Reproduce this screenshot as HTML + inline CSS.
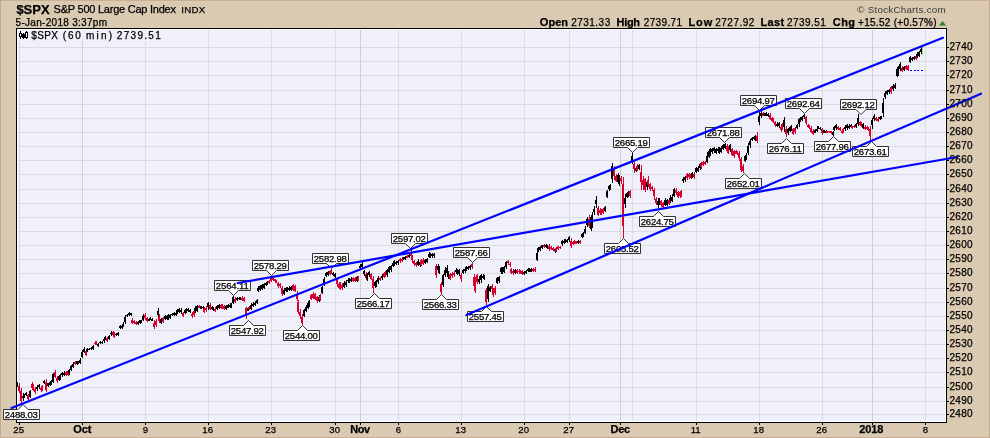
<!DOCTYPE html><html><head><meta charset="utf-8"><title>$SPX</title><style>
html,body{margin:0;padding:0;width:990px;height:438px;overflow:hidden;background:#D9CAB1}
svg{display:block;will-change:transform}text{font-family:"Liberation Sans",sans-serif;stroke:currentColor;stroke-width:0.25px}
</style></head><body>
<svg width="990" height="438" viewBox="0 0 990 438">
<rect x="0" y="0" width="990" height="438" fill="#D9CAB1"/>
<g shape-rendering="crispEdges">
<rect x="0" y="0" width="990" height="1" fill="#C8B097"/>
<rect x="0" y="437" width="990" height="1" fill="#C9AE93"/>
<rect x="0" y="0" width="1" height="438" fill="#C5A78B"/>
<rect x="989" y="0" width="1" height="438" fill="#C8A98C"/>
<rect x="16" y="28" width="931" height="395" fill="#000"/>
<rect x="17" y="29" width="929" height="393" fill="#FFFFFF"/>
<rect x="18" y="30" width="927" height="391" fill="#F0F0FA"/>
<rect x="18" y="47" width="927" height="1" fill="#DCDCE0"/>
<rect x="18" y="61" width="927" height="1" fill="#DCDCE0"/>
<rect x="18" y="75" width="927" height="1" fill="#DCDCE0"/>
<rect x="18" y="90" width="927" height="1" fill="#DCDCE0"/>
<rect x="18" y="104" width="927" height="1" fill="#DCDCE0"/>
<rect x="18" y="118" width="927" height="1" fill="#DCDCE0"/>
<rect x="18" y="132" width="927" height="1" fill="#DCDCE0"/>
<rect x="18" y="146" width="927" height="1" fill="#DCDCE0"/>
<rect x="18" y="160" width="927" height="1" fill="#DCDCE0"/>
<rect x="18" y="174" width="927" height="1" fill="#DCDCE0"/>
<rect x="18" y="189" width="927" height="1" fill="#DCDCE0"/>
<rect x="18" y="203" width="927" height="1" fill="#DCDCE0"/>
<rect x="18" y="217" width="927" height="1" fill="#DCDCE0"/>
<rect x="18" y="231" width="927" height="1" fill="#DCDCE0"/>
<rect x="18" y="245" width="927" height="1" fill="#DCDCE0"/>
<rect x="18" y="259" width="927" height="1" fill="#DCDCE0"/>
<rect x="18" y="273" width="927" height="1" fill="#DCDCE0"/>
<rect x="18" y="288" width="927" height="1" fill="#DCDCE0"/>
<rect x="18" y="302" width="927" height="1" fill="#DCDCE0"/>
<rect x="18" y="316" width="927" height="1" fill="#DCDCE0"/>
<rect x="18" y="330" width="927" height="1" fill="#DCDCE0"/>
<rect x="18" y="344" width="927" height="1" fill="#DCDCE0"/>
<rect x="18" y="358" width="927" height="1" fill="#DCDCE0"/>
<rect x="18" y="372" width="927" height="1" fill="#DCDCE0"/>
<rect x="18" y="387" width="927" height="1" fill="#DCDCE0"/>
<rect x="18" y="401" width="927" height="1" fill="#DCDCE0"/>
<rect x="18" y="414" width="927" height="1" fill="#DCDCE0"/>
<rect x="19" y="30" width="1" height="391" fill="#DCDCE0"/>
<rect x="82" y="30" width="1" height="391" fill="#D3D1C6"/>
<rect x="145" y="30" width="1" height="391" fill="#DCDCE0"/>
<rect x="208" y="30" width="1" height="391" fill="#DCDCE0"/>
<rect x="271" y="30" width="1" height="391" fill="#DCDCE0"/>
<rect x="335" y="30" width="1" height="391" fill="#DCDCE0"/>
<rect x="360" y="30" width="1" height="391" fill="#D3D1C6"/>
<rect x="398" y="30" width="1" height="391" fill="#DCDCE0"/>
<rect x="461" y="30" width="1" height="391" fill="#DCDCE0"/>
<rect x="524" y="30" width="1" height="391" fill="#DCDCE0"/>
<rect x="569" y="30" width="1" height="391" fill="#DCDCE0"/>
<rect x="620" y="30" width="1" height="391" fill="#D3D1C6"/>
<rect x="632" y="30" width="1" height="391" fill="#DCDCE0"/>
<rect x="696" y="30" width="1" height="391" fill="#DCDCE0"/>
<rect x="759" y="30" width="1" height="391" fill="#DCDCE0"/>
<rect x="822" y="30" width="1" height="391" fill="#DCDCE0"/>
<rect x="872" y="30" width="1" height="391" fill="#D3D1C6"/>
<rect x="925" y="30" width="1" height="391" fill="#DCDCE0"/>
<rect x="18" y="30" width="146" height="11" fill="#F0F0FA"/>
</g>
<g shape-rendering="crispEdges">
<rect x="17" y="382" width="1" height="5" fill="#000"/>
<rect x="16" y="384" width="2" height="1" fill="#000"/>
<rect x="19" y="383" width="1" height="10" fill="#D8002F"/>
<rect x="18" y="386" width="2" height="5" fill="#D8002F"/>
<rect x="21" y="388" width="1" height="16" fill="#D8002F"/>
<rect x="20" y="391" width="2" height="10" fill="#D8002F"/>
<rect x="23" y="393" width="1" height="8" fill="#000"/>
<rect x="22" y="396" width="2" height="2" fill="#000"/>
<rect x="24" y="394" width="1" height="4" fill="#000"/>
<rect x="23" y="395" width="2" height="2" fill="#000"/>
<rect x="26" y="392" width="1" height="4" fill="#000"/>
<rect x="25" y="393" width="2" height="2" fill="#000"/>
<rect x="28" y="394" width="1" height="6" fill="#D8002F"/>
<rect x="27" y="395" width="2" height="4" fill="#D8002F"/>
<rect x="30" y="390" width="1" height="8" fill="#000"/>
<rect x="29" y="391" width="2" height="6" fill="#000"/>
<rect x="32" y="382" width="1" height="8" fill="#D8002F"/>
<rect x="31" y="384" width="2" height="4" fill="#D8002F"/>
<rect x="33" y="384" width="1" height="7" fill="#D8002F"/>
<rect x="32" y="386" width="2" height="3" fill="#D8002F"/>
<rect x="35" y="387" width="1" height="7" fill="#D8002F"/>
<rect x="34" y="389" width="2" height="3" fill="#D8002F"/>
<rect x="37" y="385" width="1" height="6" fill="#000"/>
<rect x="36" y="387" width="2" height="2" fill="#000"/>
<rect x="39" y="384" width="1" height="5" fill="#000"/>
<rect x="38" y="385" width="2" height="2" fill="#000"/>
<rect x="41" y="386" width="1" height="6" fill="#D8002F"/>
<rect x="40" y="388" width="2" height="2" fill="#D8002F"/>
<rect x="42" y="385" width="1" height="6" fill="#D8002F"/>
<rect x="41" y="387" width="2" height="3" fill="#D8002F"/>
<rect x="44" y="380" width="1" height="4" fill="#000"/>
<rect x="43" y="381" width="2" height="2" fill="#000"/>
<rect x="46" y="379" width="1" height="13" fill="#D8002F"/>
<rect x="45" y="382" width="2" height="8" fill="#D8002F"/>
<rect x="48" y="383" width="1" height="4" fill="#000"/>
<rect x="47" y="383" width="2" height="3" fill="#000"/>
<rect x="50" y="381" width="1" height="5" fill="#000"/>
<rect x="49" y="382" width="2" height="3" fill="#000"/>
<rect x="51" y="380" width="1" height="5" fill="#000"/>
<rect x="50" y="381" width="2" height="3" fill="#000"/>
<rect x="53" y="373" width="1" height="10" fill="#000"/>
<rect x="52" y="374" width="2" height="8" fill="#000"/>
<rect x="55" y="370" width="1" height="8" fill="#D8002F"/>
<rect x="54" y="372" width="2" height="5" fill="#D8002F"/>
<rect x="57" y="376" width="1" height="7" fill="#D8002F"/>
<rect x="56" y="378" width="2" height="3" fill="#D8002F"/>
<rect x="59" y="375" width="1" height="6" fill="#000"/>
<rect x="58" y="376" width="2" height="4" fill="#000"/>
<rect x="60" y="374" width="1" height="6" fill="#000"/>
<rect x="59" y="375" width="2" height="4" fill="#000"/>
<rect x="62" y="372" width="1" height="5" fill="#000"/>
<rect x="61" y="373" width="2" height="2" fill="#000"/>
<rect x="64" y="371" width="1" height="5" fill="#000"/>
<rect x="63" y="373" width="2" height="2" fill="#000"/>
<rect x="66" y="371" width="1" height="5" fill="#D8002F"/>
<rect x="65" y="372" width="2" height="3" fill="#D8002F"/>
<rect x="68" y="370" width="1" height="6" fill="#D8002F"/>
<rect x="67" y="371" width="2" height="4" fill="#D8002F"/>
<rect x="69" y="369" width="1" height="6" fill="#000"/>
<rect x="68" y="370" width="2" height="3" fill="#000"/>
<rect x="71" y="365" width="1" height="6" fill="#000"/>
<rect x="70" y="366" width="2" height="4" fill="#000"/>
<rect x="73" y="362" width="1" height="6" fill="#000"/>
<rect x="72" y="364" width="2" height="3" fill="#000"/>
<rect x="75" y="361" width="1" height="4" fill="#D8002F"/>
<rect x="74" y="362" width="2" height="2" fill="#D8002F"/>
<rect x="77" y="361" width="1" height="4" fill="#000"/>
<rect x="76" y="361" width="2" height="3" fill="#000"/>
<rect x="78" y="361" width="1" height="3" fill="#000"/>
<rect x="77" y="362" width="2" height="1" fill="#000"/>
<rect x="80" y="358" width="1" height="6" fill="#000"/>
<rect x="79" y="360" width="2" height="3" fill="#000"/>
<rect x="82" y="350" width="1" height="8" fill="#000"/>
<rect x="81" y="352" width="2" height="5" fill="#000"/>
<rect x="84" y="347" width="1" height="6" fill="#000"/>
<rect x="83" y="349" width="2" height="3" fill="#000"/>
<rect x="86" y="349" width="1" height="7" fill="#D8002F"/>
<rect x="85" y="351" width="2" height="4" fill="#D8002F"/>
<rect x="87" y="348" width="1" height="4" fill="#000"/>
<rect x="86" y="349" width="2" height="2" fill="#000"/>
<rect x="89" y="348" width="1" height="2" fill="#000"/>
<rect x="88" y="349" width="2" height="1" fill="#000"/>
<rect x="91" y="347" width="1" height="3" fill="#000"/>
<rect x="90" y="348" width="2" height="1" fill="#000"/>
<rect x="93" y="345" width="1" height="5" fill="#000"/>
<rect x="92" y="346" width="2" height="3" fill="#000"/>
<rect x="95" y="342" width="1" height="3" fill="#D8002F"/>
<rect x="94" y="343" width="2" height="1" fill="#D8002F"/>
<rect x="96" y="341" width="1" height="4" fill="#D8002F"/>
<rect x="95" y="341" width="2" height="4" fill="#D8002F"/>
<rect x="98" y="343" width="1" height="4" fill="#000"/>
<rect x="97" y="344" width="2" height="2" fill="#000"/>
<rect x="100" y="341" width="1" height="3" fill="#000"/>
<rect x="99" y="342" width="2" height="1" fill="#000"/>
<rect x="102" y="341" width="1" height="3" fill="#000"/>
<rect x="101" y="342" width="2" height="1" fill="#000"/>
<rect x="104" y="337" width="1" height="6" fill="#000"/>
<rect x="103" y="339" width="2" height="2" fill="#000"/>
<rect x="105" y="336" width="1" height="4" fill="#000"/>
<rect x="104" y="337" width="2" height="2" fill="#000"/>
<rect x="107" y="337" width="1" height="5" fill="#D8002F"/>
<rect x="106" y="338" width="2" height="3" fill="#D8002F"/>
<rect x="109" y="335" width="1" height="5" fill="#000"/>
<rect x="108" y="336" width="2" height="3" fill="#000"/>
<rect x="111" y="331" width="1" height="5" fill="#000"/>
<rect x="110" y="333" width="2" height="1" fill="#000"/>
<rect x="113" y="331" width="1" height="6" fill="#D8002F"/>
<rect x="112" y="332" width="2" height="3" fill="#D8002F"/>
<rect x="114" y="332" width="1" height="6" fill="#D8002F"/>
<rect x="113" y="334" width="2" height="3" fill="#D8002F"/>
<rect x="116" y="333" width="1" height="3" fill="#000"/>
<rect x="115" y="334" width="2" height="1" fill="#000"/>
<rect x="118" y="332" width="1" height="4" fill="#000"/>
<rect x="117" y="333" width="2" height="2" fill="#000"/>
<rect x="120" y="325" width="1" height="4" fill="#000"/>
<rect x="119" y="326" width="2" height="2" fill="#000"/>
<rect x="122" y="325" width="1" height="4" fill="#000"/>
<rect x="121" y="326" width="2" height="2" fill="#000"/>
<rect x="123" y="322" width="1" height="5" fill="#000"/>
<rect x="122" y="324" width="2" height="1" fill="#000"/>
<rect x="125" y="315" width="1" height="9" fill="#000"/>
<rect x="124" y="317" width="2" height="5" fill="#000"/>
<rect x="127" y="314" width="1" height="3" fill="#000"/>
<rect x="126" y="315" width="2" height="1" fill="#000"/>
<rect x="129" y="312" width="1" height="4" fill="#000"/>
<rect x="128" y="313" width="2" height="2" fill="#000"/>
<rect x="131" y="313" width="1" height="3" fill="#000"/>
<rect x="130" y="313" width="2" height="2" fill="#000"/>
<rect x="132" y="318" width="1" height="6" fill="#D8002F"/>
<rect x="131" y="320" width="2" height="3" fill="#D8002F"/>
<rect x="134" y="320" width="1" height="4" fill="#D8002F"/>
<rect x="133" y="321" width="2" height="2" fill="#D8002F"/>
<rect x="136" y="321" width="1" height="4" fill="#D8002F"/>
<rect x="135" y="322" width="2" height="2" fill="#D8002F"/>
<rect x="138" y="321" width="1" height="4" fill="#000"/>
<rect x="137" y="322" width="2" height="2" fill="#000"/>
<rect x="140" y="320" width="1" height="4" fill="#000"/>
<rect x="139" y="320" width="2" height="3" fill="#000"/>
<rect x="141" y="320" width="1" height="3" fill="#000"/>
<rect x="140" y="321" width="2" height="1" fill="#000"/>
<rect x="143" y="314" width="1" height="7" fill="#000"/>
<rect x="142" y="316" width="2" height="4" fill="#000"/>
<rect x="145" y="313" width="1" height="7" fill="#D8002F"/>
<rect x="144" y="315" width="2" height="3" fill="#D8002F"/>
<rect x="147" y="317" width="1" height="5" fill="#D8002F"/>
<rect x="146" y="318" width="2" height="3" fill="#D8002F"/>
<rect x="149" y="318" width="1" height="3" fill="#000"/>
<rect x="148" y="319" width="2" height="2" fill="#000"/>
<rect x="150" y="317" width="1" height="3" fill="#000"/>
<rect x="149" y="318" width="2" height="2" fill="#000"/>
<rect x="152" y="318" width="1" height="3" fill="#000"/>
<rect x="151" y="319" width="2" height="2" fill="#000"/>
<rect x="154" y="320" width="1" height="9" fill="#D8002F"/>
<rect x="153" y="323" width="2" height="4" fill="#D8002F"/>
<rect x="156" y="319" width="1" height="8" fill="#D8002F"/>
<rect x="155" y="321" width="2" height="4" fill="#D8002F"/>
<rect x="158" y="308" width="1" height="9" fill="#000"/>
<rect x="157" y="311" width="2" height="4" fill="#000"/>
<rect x="159" y="314" width="1" height="9" fill="#D8002F"/>
<rect x="158" y="317" width="2" height="4" fill="#D8002F"/>
<rect x="161" y="318" width="1" height="6" fill="#000"/>
<rect x="160" y="319" width="2" height="4" fill="#000"/>
<rect x="163" y="317" width="1" height="6" fill="#D8002F"/>
<rect x="162" y="318" width="2" height="4" fill="#D8002F"/>
<rect x="165" y="315" width="1" height="5" fill="#000"/>
<rect x="164" y="316" width="2" height="3" fill="#000"/>
<rect x="167" y="315" width="1" height="5" fill="#000"/>
<rect x="166" y="316" width="2" height="3" fill="#000"/>
<rect x="168" y="314" width="1" height="6" fill="#000"/>
<rect x="167" y="315" width="2" height="3" fill="#000"/>
<rect x="170" y="314" width="1" height="5" fill="#000"/>
<rect x="169" y="315" width="2" height="3" fill="#000"/>
<rect x="172" y="313" width="1" height="3" fill="#000"/>
<rect x="171" y="314" width="2" height="1" fill="#000"/>
<rect x="174" y="312" width="1" height="4" fill="#000"/>
<rect x="173" y="313" width="2" height="2" fill="#000"/>
<rect x="176" y="312" width="1" height="4" fill="#000"/>
<rect x="175" y="313" width="2" height="2" fill="#000"/>
<rect x="177" y="309" width="1" height="5" fill="#000"/>
<rect x="176" y="310" width="2" height="3" fill="#000"/>
<rect x="179" y="308" width="1" height="5" fill="#000"/>
<rect x="178" y="309" width="2" height="3" fill="#000"/>
<rect x="181" y="308" width="1" height="6" fill="#000"/>
<rect x="180" y="310" width="2" height="2" fill="#000"/>
<rect x="183" y="312" width="1" height="5" fill="#D8002F"/>
<rect x="182" y="313" width="2" height="3" fill="#D8002F"/>
<rect x="185" y="309" width="1" height="5" fill="#000"/>
<rect x="184" y="310" width="2" height="3" fill="#000"/>
<rect x="186" y="308" width="1" height="5" fill="#000"/>
<rect x="185" y="309" width="2" height="3" fill="#000"/>
<rect x="188" y="308" width="1" height="4" fill="#000"/>
<rect x="187" y="309" width="2" height="2" fill="#000"/>
<rect x="190" y="309" width="1" height="4" fill="#000"/>
<rect x="189" y="310" width="2" height="2" fill="#000"/>
<rect x="192" y="312" width="1" height="6" fill="#D8002F"/>
<rect x="191" y="314" width="2" height="2" fill="#D8002F"/>
<rect x="194" y="310" width="1" height="7" fill="#D8002F"/>
<rect x="193" y="311" width="2" height="4" fill="#D8002F"/>
<rect x="195" y="306" width="1" height="7" fill="#000"/>
<rect x="194" y="308" width="2" height="3" fill="#000"/>
<rect x="197" y="305" width="1" height="7" fill="#000"/>
<rect x="196" y="306" width="2" height="5" fill="#000"/>
<rect x="199" y="305" width="1" height="3" fill="#D8002F"/>
<rect x="198" y="306" width="2" height="2" fill="#D8002F"/>
<rect x="201" y="306" width="1" height="3" fill="#000"/>
<rect x="200" y="306" width="2" height="3" fill="#000"/>
<rect x="203" y="306" width="1" height="3" fill="#000"/>
<rect x="202" y="307" width="2" height="1" fill="#000"/>
<rect x="204" y="307" width="1" height="6" fill="#D8002F"/>
<rect x="203" y="309" width="2" height="3" fill="#D8002F"/>
<rect x="206" y="306" width="1" height="6" fill="#D8002F"/>
<rect x="205" y="308" width="2" height="2" fill="#D8002F"/>
<rect x="208" y="302" width="1" height="8" fill="#000"/>
<rect x="207" y="303" width="2" height="4" fill="#000"/>
<rect x="210" y="303" width="1" height="7" fill="#D8002F"/>
<rect x="209" y="305" width="2" height="4" fill="#D8002F"/>
<rect x="212" y="306" width="1" height="4" fill="#000"/>
<rect x="211" y="307" width="2" height="2" fill="#000"/>
<rect x="213" y="307" width="1" height="4" fill="#000"/>
<rect x="212" y="308" width="2" height="2" fill="#000"/>
<rect x="215" y="307" width="1" height="5" fill="#D8002F"/>
<rect x="214" y="309" width="2" height="2" fill="#D8002F"/>
<rect x="217" y="305" width="1" height="5" fill="#000"/>
<rect x="216" y="306" width="2" height="3" fill="#000"/>
<rect x="219" y="304" width="1" height="5" fill="#000"/>
<rect x="218" y="305" width="2" height="3" fill="#000"/>
<rect x="221" y="304" width="1" height="5" fill="#D8002F"/>
<rect x="220" y="305" width="2" height="3" fill="#D8002F"/>
<rect x="222" y="304" width="1" height="5" fill="#D8002F"/>
<rect x="221" y="305" width="2" height="3" fill="#D8002F"/>
<rect x="224" y="305" width="1" height="5" fill="#D8002F"/>
<rect x="223" y="306" width="2" height="3" fill="#D8002F"/>
<rect x="226" y="305" width="1" height="5" fill="#000"/>
<rect x="225" y="306" width="2" height="3" fill="#000"/>
<rect x="228" y="304" width="1" height="4" fill="#000"/>
<rect x="227" y="305" width="2" height="3" fill="#000"/>
<rect x="230" y="303" width="1" height="5" fill="#000"/>
<rect x="229" y="305" width="2" height="2" fill="#000"/>
<rect x="231" y="303" width="1" height="5" fill="#000"/>
<rect x="230" y="305" width="2" height="2" fill="#000"/>
<rect x="233" y="296" width="1" height="8" fill="#000"/>
<rect x="232" y="297" width="2" height="6" fill="#000"/>
<rect x="235" y="297" width="1" height="6" fill="#D8002F"/>
<rect x="234" y="299" width="2" height="3" fill="#D8002F"/>
<rect x="237" y="297" width="1" height="4" fill="#000"/>
<rect x="236" y="298" width="2" height="2" fill="#000"/>
<rect x="239" y="297" width="1" height="3" fill="#000"/>
<rect x="238" y="298" width="2" height="1" fill="#000"/>
<rect x="240" y="297" width="1" height="3" fill="#000"/>
<rect x="239" y="297" width="2" height="3" fill="#000"/>
<rect x="242" y="296" width="1" height="5" fill="#D8002F"/>
<rect x="241" y="298" width="2" height="2" fill="#D8002F"/>
<rect x="244" y="297" width="1" height="5" fill="#D8002F"/>
<rect x="243" y="298" width="2" height="3" fill="#D8002F"/>
<rect x="246" y="307" width="1" height="12" fill="#D8002F"/>
<rect x="245" y="308" width="2" height="8" fill="#D8002F"/>
<rect x="248" y="307" width="1" height="4" fill="#000"/>
<rect x="247" y="308" width="2" height="3" fill="#000"/>
<rect x="249" y="306" width="1" height="4" fill="#D8002F"/>
<rect x="248" y="307" width="2" height="2" fill="#D8002F"/>
<rect x="251" y="303" width="1" height="7" fill="#000"/>
<rect x="250" y="305" width="2" height="4" fill="#000"/>
<rect x="253" y="302" width="1" height="5" fill="#000"/>
<rect x="252" y="304" width="2" height="2" fill="#000"/>
<rect x="255" y="301" width="1" height="5" fill="#000"/>
<rect x="254" y="303" width="2" height="2" fill="#000"/>
<rect x="257" y="299" width="1" height="5" fill="#000"/>
<rect x="256" y="300" width="2" height="3" fill="#000"/>
<rect x="258" y="286" width="1" height="6" fill="#000"/>
<rect x="257" y="288" width="2" height="3" fill="#000"/>
<rect x="260" y="285" width="1" height="6" fill="#000"/>
<rect x="259" y="286" width="2" height="4" fill="#000"/>
<rect x="262" y="284" width="1" height="6" fill="#000"/>
<rect x="261" y="285" width="2" height="4" fill="#000"/>
<rect x="264" y="283" width="1" height="6" fill="#000"/>
<rect x="263" y="284" width="2" height="4" fill="#000"/>
<rect x="266" y="282" width="1" height="4" fill="#000"/>
<rect x="265" y="283" width="2" height="2" fill="#000"/>
<rect x="267" y="281" width="1" height="4" fill="#000"/>
<rect x="266" y="282" width="2" height="2" fill="#000"/>
<rect x="269" y="280" width="1" height="4" fill="#D8002F"/>
<rect x="268" y="281" width="2" height="2" fill="#D8002F"/>
<rect x="271" y="277" width="1" height="5" fill="#D8002F"/>
<rect x="270" y="278" width="2" height="3" fill="#D8002F"/>
<rect x="273" y="276" width="1" height="5" fill="#D8002F"/>
<rect x="272" y="277" width="2" height="3" fill="#D8002F"/>
<rect x="275" y="279" width="1" height="3" fill="#D8002F"/>
<rect x="274" y="279" width="2" height="2" fill="#D8002F"/>
<rect x="276" y="280" width="1" height="3" fill="#D8002F"/>
<rect x="275" y="281" width="2" height="2" fill="#D8002F"/>
<rect x="278" y="282" width="1" height="6" fill="#D8002F"/>
<rect x="277" y="283" width="2" height="3" fill="#D8002F"/>
<rect x="280" y="283" width="1" height="5" fill="#D8002F"/>
<rect x="279" y="284" width="2" height="2" fill="#D8002F"/>
<rect x="282" y="286" width="1" height="10" fill="#D8002F"/>
<rect x="281" y="288" width="2" height="6" fill="#D8002F"/>
<rect x="284" y="288" width="1" height="7" fill="#000"/>
<rect x="283" y="290" width="2" height="4" fill="#000"/>
<rect x="286" y="287" width="1" height="5" fill="#000"/>
<rect x="285" y="288" width="2" height="3" fill="#000"/>
<rect x="287" y="287" width="1" height="5" fill="#000"/>
<rect x="286" y="289" width="2" height="2" fill="#000"/>
<rect x="289" y="286" width="1" height="5" fill="#000"/>
<rect x="288" y="288" width="2" height="2" fill="#000"/>
<rect x="291" y="286" width="1" height="5" fill="#000"/>
<rect x="290" y="287" width="2" height="3" fill="#000"/>
<rect x="293" y="284" width="1" height="7" fill="#D8002F"/>
<rect x="292" y="285" width="2" height="5" fill="#D8002F"/>
<rect x="295" y="285" width="1" height="7" fill="#D8002F"/>
<rect x="294" y="286" width="2" height="5" fill="#D8002F"/>
<rect x="297" y="291" width="1" height="10" fill="#D8002F"/>
<rect x="296" y="294" width="2" height="5" fill="#D8002F"/>
<rect x="298" y="300" width="1" height="14" fill="#D8002F"/>
<rect x="297" y="302" width="2" height="10" fill="#D8002F"/>
<rect x="300" y="309" width="1" height="10" fill="#D8002F"/>
<rect x="299" y="312" width="2" height="4" fill="#D8002F"/>
<rect x="302" y="314" width="1" height="11" fill="#D8002F"/>
<rect x="301" y="317" width="2" height="6" fill="#D8002F"/>
<rect x="304" y="309" width="1" height="8" fill="#000"/>
<rect x="303" y="310" width="2" height="6" fill="#000"/>
<rect x="306" y="305" width="1" height="7" fill="#000"/>
<rect x="305" y="307" width="2" height="4" fill="#000"/>
<rect x="308" y="301" width="1" height="8" fill="#000"/>
<rect x="307" y="303" width="2" height="5" fill="#000"/>
<rect x="309" y="300" width="1" height="7" fill="#000"/>
<rect x="308" y="302" width="2" height="3" fill="#000"/>
<rect x="311" y="294" width="1" height="6" fill="#D8002F"/>
<rect x="310" y="295" width="2" height="4" fill="#D8002F"/>
<rect x="313" y="292" width="1" height="7" fill="#D8002F"/>
<rect x="312" y="294" width="2" height="4" fill="#D8002F"/>
<rect x="315" y="293" width="1" height="7" fill="#D8002F"/>
<rect x="314" y="294" width="2" height="5" fill="#D8002F"/>
<rect x="317" y="296" width="1" height="7" fill="#D8002F"/>
<rect x="316" y="297" width="2" height="4" fill="#D8002F"/>
<rect x="319" y="295" width="1" height="7" fill="#000"/>
<rect x="318" y="297" width="2" height="4" fill="#000"/>
<rect x="320" y="294" width="1" height="7" fill="#D8002F"/>
<rect x="319" y="296" width="2" height="4" fill="#D8002F"/>
<rect x="322" y="286" width="1" height="8" fill="#000"/>
<rect x="321" y="287" width="2" height="6" fill="#000"/>
<rect x="324" y="277" width="1" height="9" fill="#000"/>
<rect x="323" y="279" width="2" height="6" fill="#000"/>
<rect x="326" y="272" width="1" height="5" fill="#000"/>
<rect x="325" y="273" width="2" height="3" fill="#000"/>
<rect x="328" y="271" width="1" height="5" fill="#000"/>
<rect x="327" y="272" width="2" height="3" fill="#000"/>
<rect x="330" y="270" width="1" height="5" fill="#D8002F"/>
<rect x="329" y="271" width="2" height="3" fill="#D8002F"/>
<rect x="331" y="269" width="1" height="5" fill="#D8002F"/>
<rect x="330" y="270" width="2" height="3" fill="#D8002F"/>
<rect x="333" y="272" width="1" height="4" fill="#000"/>
<rect x="332" y="273" width="2" height="2" fill="#000"/>
<rect x="335" y="273" width="1" height="6" fill="#000"/>
<rect x="334" y="274" width="2" height="3" fill="#000"/>
<rect x="337" y="277" width="1" height="10" fill="#D8002F"/>
<rect x="336" y="278" width="2" height="6" fill="#D8002F"/>
<rect x="339" y="282" width="1" height="7" fill="#D8002F"/>
<rect x="338" y="284" width="2" height="4" fill="#D8002F"/>
<rect x="340" y="282" width="1" height="8" fill="#D8002F"/>
<rect x="339" y="284" width="2" height="3" fill="#D8002F"/>
<rect x="342" y="283" width="1" height="7" fill="#D8002F"/>
<rect x="341" y="285" width="2" height="3" fill="#D8002F"/>
<rect x="344" y="281" width="1" height="7" fill="#000"/>
<rect x="343" y="283" width="2" height="4" fill="#000"/>
<rect x="346" y="280" width="1" height="7" fill="#000"/>
<rect x="345" y="282" width="2" height="3" fill="#000"/>
<rect x="348" y="278" width="1" height="5" fill="#000"/>
<rect x="347" y="280" width="2" height="1" fill="#000"/>
<rect x="349" y="278" width="1" height="5" fill="#000"/>
<rect x="348" y="280" width="2" height="2" fill="#000"/>
<rect x="351" y="277" width="1" height="5" fill="#000"/>
<rect x="350" y="279" width="2" height="2" fill="#000"/>
<rect x="353" y="277" width="1" height="5" fill="#D8002F"/>
<rect x="352" y="278" width="2" height="3" fill="#D8002F"/>
<rect x="355" y="277" width="1" height="5" fill="#D8002F"/>
<rect x="354" y="278" width="2" height="3" fill="#D8002F"/>
<rect x="357" y="276" width="1" height="6" fill="#000"/>
<rect x="356" y="277" width="2" height="4" fill="#000"/>
<rect x="358" y="276" width="1" height="5" fill="#D8002F"/>
<rect x="357" y="278" width="2" height="2" fill="#D8002F"/>
<rect x="360" y="264" width="1" height="6" fill="#000"/>
<rect x="359" y="266" width="2" height="2" fill="#000"/>
<rect x="362" y="262" width="1" height="6" fill="#000"/>
<rect x="361" y="264" width="2" height="3" fill="#000"/>
<rect x="364" y="270" width="1" height="6" fill="#000"/>
<rect x="363" y="271" width="2" height="3" fill="#000"/>
<rect x="366" y="272" width="1" height="8" fill="#D8002F"/>
<rect x="365" y="274" width="2" height="4" fill="#D8002F"/>
<rect x="367" y="273" width="1" height="8" fill="#000"/>
<rect x="366" y="275" width="2" height="4" fill="#000"/>
<rect x="369" y="271" width="1" height="6" fill="#000"/>
<rect x="368" y="272" width="2" height="3" fill="#000"/>
<rect x="371" y="273" width="1" height="7" fill="#D8002F"/>
<rect x="370" y="274" width="2" height="5" fill="#D8002F"/>
<rect x="373" y="276" width="1" height="17" fill="#D8002F"/>
<rect x="372" y="279" width="2" height="9" fill="#D8002F"/>
<rect x="375" y="281" width="1" height="7" fill="#000"/>
<rect x="374" y="282" width="2" height="4" fill="#000"/>
<rect x="376" y="280" width="1" height="7" fill="#000"/>
<rect x="375" y="282" width="2" height="3" fill="#000"/>
<rect x="378" y="276" width="1" height="8" fill="#000"/>
<rect x="377" y="278" width="2" height="4" fill="#000"/>
<rect x="380" y="277" width="1" height="4" fill="#D8002F"/>
<rect x="379" y="278" width="2" height="2" fill="#D8002F"/>
<rect x="382" y="274" width="1" height="6" fill="#000"/>
<rect x="381" y="276" width="2" height="2" fill="#000"/>
<rect x="384" y="272" width="1" height="6" fill="#D8002F"/>
<rect x="383" y="273" width="2" height="4" fill="#D8002F"/>
<rect x="385" y="271" width="1" height="6" fill="#D8002F"/>
<rect x="384" y="272" width="2" height="3" fill="#D8002F"/>
<rect x="387" y="269" width="1" height="8" fill="#000"/>
<rect x="386" y="270" width="2" height="5" fill="#000"/>
<rect x="389" y="266" width="1" height="7" fill="#000"/>
<rect x="388" y="267" width="2" height="5" fill="#000"/>
<rect x="391" y="265" width="1" height="7" fill="#000"/>
<rect x="390" y="266" width="2" height="4" fill="#000"/>
<rect x="393" y="262" width="1" height="5" fill="#000"/>
<rect x="392" y="263" width="2" height="3" fill="#000"/>
<rect x="394" y="260" width="1" height="6" fill="#000"/>
<rect x="393" y="261" width="2" height="4" fill="#000"/>
<rect x="396" y="261" width="1" height="4" fill="#000"/>
<rect x="395" y="262" width="2" height="2" fill="#000"/>
<rect x="398" y="260" width="1" height="5" fill="#000"/>
<rect x="397" y="261" width="2" height="2" fill="#000"/>
<rect x="400" y="258" width="1" height="5" fill="#D8002F"/>
<rect x="399" y="259" width="2" height="2" fill="#D8002F"/>
<rect x="402" y="257" width="1" height="5" fill="#D8002F"/>
<rect x="401" y="259" width="2" height="2" fill="#D8002F"/>
<rect x="403" y="257" width="1" height="3" fill="#000"/>
<rect x="402" y="258" width="2" height="1" fill="#000"/>
<rect x="405" y="256" width="1" height="4" fill="#000"/>
<rect x="404" y="257" width="2" height="2" fill="#000"/>
<rect x="407" y="255" width="1" height="3" fill="#D8002F"/>
<rect x="406" y="256" width="2" height="2" fill="#D8002F"/>
<rect x="409" y="254" width="1" height="4" fill="#000"/>
<rect x="408" y="255" width="2" height="2" fill="#000"/>
<rect x="411" y="250" width="1" height="7" fill="#D8002F"/>
<rect x="410" y="252" width="2" height="4" fill="#D8002F"/>
<rect x="412" y="255" width="1" height="8" fill="#D8002F"/>
<rect x="411" y="257" width="2" height="3" fill="#D8002F"/>
<rect x="414" y="260" width="1" height="6" fill="#D8002F"/>
<rect x="413" y="261" width="2" height="3" fill="#D8002F"/>
<rect x="416" y="262" width="1" height="5" fill="#D8002F"/>
<rect x="415" y="263" width="2" height="2" fill="#D8002F"/>
<rect x="418" y="259" width="1" height="7" fill="#000"/>
<rect x="417" y="261" width="2" height="4" fill="#000"/>
<rect x="420" y="260" width="1" height="7" fill="#000"/>
<rect x="419" y="262" width="2" height="3" fill="#000"/>
<rect x="421" y="259" width="1" height="7" fill="#D8002F"/>
<rect x="420" y="260" width="2" height="5" fill="#D8002F"/>
<rect x="423" y="258" width="1" height="7" fill="#D8002F"/>
<rect x="422" y="260" width="2" height="4" fill="#D8002F"/>
<rect x="425" y="259" width="1" height="5" fill="#000"/>
<rect x="424" y="260" width="2" height="3" fill="#000"/>
<rect x="427" y="258" width="1" height="5" fill="#000"/>
<rect x="426" y="259" width="2" height="3" fill="#000"/>
<rect x="429" y="252" width="1" height="6" fill="#000"/>
<rect x="428" y="254" width="2" height="3" fill="#000"/>
<rect x="430" y="253" width="1" height="5" fill="#000"/>
<rect x="429" y="254" width="2" height="2" fill="#000"/>
<rect x="432" y="253" width="1" height="5" fill="#000"/>
<rect x="431" y="254" width="2" height="2" fill="#000"/>
<rect x="434" y="253" width="1" height="5" fill="#000"/>
<rect x="433" y="254" width="2" height="2" fill="#000"/>
<rect x="436" y="264" width="1" height="14" fill="#D8002F"/>
<rect x="435" y="266" width="2" height="9" fill="#D8002F"/>
<rect x="438" y="264" width="1" height="9" fill="#000"/>
<rect x="437" y="266" width="2" height="4" fill="#000"/>
<rect x="439" y="266" width="1" height="8" fill="#000"/>
<rect x="438" y="268" width="2" height="4" fill="#000"/>
<rect x="441" y="282" width="1" height="12" fill="#D8002F"/>
<rect x="440" y="284" width="2" height="8" fill="#D8002F"/>
<rect x="443" y="274" width="1" height="13" fill="#000"/>
<rect x="442" y="275" width="2" height="10" fill="#000"/>
<rect x="445" y="267" width="1" height="10" fill="#000"/>
<rect x="444" y="270" width="2" height="5" fill="#000"/>
<rect x="447" y="265" width="1" height="10" fill="#000"/>
<rect x="446" y="268" width="2" height="5" fill="#000"/>
<rect x="448" y="271" width="1" height="8" fill="#000"/>
<rect x="447" y="272" width="2" height="5" fill="#000"/>
<rect x="450" y="273" width="1" height="7" fill="#D8002F"/>
<rect x="449" y="274" width="2" height="5" fill="#D8002F"/>
<rect x="452" y="272" width="1" height="6" fill="#D8002F"/>
<rect x="451" y="274" width="2" height="2" fill="#D8002F"/>
<rect x="454" y="271" width="1" height="6" fill="#D8002F"/>
<rect x="453" y="273" width="2" height="2" fill="#D8002F"/>
<rect x="456" y="268" width="1" height="6" fill="#000"/>
<rect x="455" y="270" width="2" height="2" fill="#000"/>
<rect x="457" y="269" width="1" height="6" fill="#000"/>
<rect x="456" y="270" width="2" height="3" fill="#000"/>
<rect x="459" y="269" width="1" height="7" fill="#000"/>
<rect x="458" y="270" width="2" height="4" fill="#000"/>
<rect x="461" y="273" width="1" height="9" fill="#D8002F"/>
<rect x="460" y="275" width="2" height="4" fill="#D8002F"/>
<rect x="463" y="269" width="1" height="5" fill="#000"/>
<rect x="462" y="270" width="2" height="3" fill="#000"/>
<rect x="465" y="268" width="1" height="5" fill="#000"/>
<rect x="464" y="269" width="2" height="2" fill="#000"/>
<rect x="466" y="266" width="1" height="5" fill="#000"/>
<rect x="465" y="267" width="2" height="3" fill="#000"/>
<rect x="468" y="266" width="1" height="4" fill="#000"/>
<rect x="467" y="267" width="2" height="2" fill="#000"/>
<rect x="470" y="265" width="1" height="5" fill="#000"/>
<rect x="469" y="266" width="2" height="2" fill="#000"/>
<rect x="472" y="263" width="1" height="6" fill="#D8002F"/>
<rect x="471" y="264" width="2" height="3" fill="#D8002F"/>
<rect x="474" y="274" width="1" height="16" fill="#D8002F"/>
<rect x="473" y="277" width="2" height="9" fill="#D8002F"/>
<rect x="475" y="277" width="1" height="16" fill="#D8002F"/>
<rect x="474" y="280" width="2" height="11" fill="#D8002F"/>
<rect x="477" y="274" width="1" height="10" fill="#D8002F"/>
<rect x="476" y="275" width="2" height="7" fill="#D8002F"/>
<rect x="479" y="276" width="1" height="8" fill="#000"/>
<rect x="478" y="279" width="2" height="3" fill="#000"/>
<rect x="481" y="274" width="1" height="9" fill="#000"/>
<rect x="480" y="275" width="2" height="5" fill="#000"/>
<rect x="483" y="274" width="1" height="5" fill="#000"/>
<rect x="482" y="276" width="2" height="2" fill="#000"/>
<rect x="484" y="275" width="1" height="5" fill="#000"/>
<rect x="483" y="276" width="2" height="3" fill="#000"/>
<rect x="486" y="288" width="1" height="17" fill="#D8002F"/>
<rect x="485" y="290" width="2" height="12" fill="#D8002F"/>
<rect x="488" y="284" width="1" height="18" fill="#000"/>
<rect x="487" y="286" width="2" height="13" fill="#000"/>
<rect x="490" y="286" width="1" height="6" fill="#000"/>
<rect x="489" y="287" width="2" height="4" fill="#000"/>
<rect x="492" y="284" width="1" height="7" fill="#D8002F"/>
<rect x="491" y="286" width="2" height="3" fill="#D8002F"/>
<rect x="493" y="288" width="1" height="9" fill="#D8002F"/>
<rect x="492" y="290" width="2" height="5" fill="#D8002F"/>
<rect x="495" y="286" width="1" height="9" fill="#D8002F"/>
<rect x="494" y="288" width="2" height="5" fill="#D8002F"/>
<rect x="497" y="277" width="1" height="7" fill="#000"/>
<rect x="496" y="278" width="2" height="5" fill="#000"/>
<rect x="499" y="276" width="1" height="7" fill="#000"/>
<rect x="498" y="277" width="2" height="4" fill="#000"/>
<rect x="501" y="267" width="1" height="7" fill="#000"/>
<rect x="500" y="268" width="2" height="4" fill="#000"/>
<rect x="502" y="267" width="1" height="7" fill="#000"/>
<rect x="501" y="269" width="2" height="3" fill="#000"/>
<rect x="504" y="266" width="1" height="7" fill="#000"/>
<rect x="503" y="267" width="2" height="5" fill="#000"/>
<rect x="506" y="261" width="1" height="8" fill="#000"/>
<rect x="505" y="262" width="2" height="5" fill="#000"/>
<rect x="508" y="260" width="1" height="5" fill="#D8002F"/>
<rect x="507" y="261" width="2" height="2" fill="#D8002F"/>
<rect x="510" y="262" width="1" height="5" fill="#D8002F"/>
<rect x="509" y="264" width="2" height="1" fill="#D8002F"/>
<rect x="511" y="268" width="1" height="6" fill="#D8002F"/>
<rect x="510" y="269" width="2" height="4" fill="#D8002F"/>
<rect x="513" y="269" width="1" height="6" fill="#D8002F"/>
<rect x="512" y="271" width="2" height="2" fill="#D8002F"/>
<rect x="515" y="269" width="1" height="5" fill="#000"/>
<rect x="514" y="270" width="2" height="3" fill="#000"/>
<rect x="517" y="269" width="1" height="5" fill="#D8002F"/>
<rect x="516" y="270" width="2" height="3" fill="#D8002F"/>
<rect x="519" y="269" width="1" height="5" fill="#D8002F"/>
<rect x="518" y="271" width="2" height="1" fill="#D8002F"/>
<rect x="520" y="270" width="1" height="4" fill="#D8002F"/>
<rect x="519" y="271" width="2" height="2" fill="#D8002F"/>
<rect x="522" y="270" width="1" height="5" fill="#D8002F"/>
<rect x="521" y="271" width="2" height="3" fill="#D8002F"/>
<rect x="524" y="271" width="1" height="4" fill="#000"/>
<rect x="523" y="272" width="2" height="2" fill="#000"/>
<rect x="526" y="270" width="1" height="4" fill="#000"/>
<rect x="525" y="271" width="2" height="2" fill="#000"/>
<rect x="528" y="268" width="1" height="4" fill="#000"/>
<rect x="527" y="269" width="2" height="2" fill="#000"/>
<rect x="529" y="268" width="1" height="4" fill="#000"/>
<rect x="528" y="269" width="2" height="2" fill="#000"/>
<rect x="531" y="268" width="1" height="4" fill="#000"/>
<rect x="530" y="269" width="2" height="3" fill="#000"/>
<rect x="533" y="268" width="1" height="4" fill="#D8002F"/>
<rect x="532" y="269" width="2" height="2" fill="#D8002F"/>
<rect x="535" y="267" width="1" height="5" fill="#D8002F"/>
<rect x="534" y="269" width="2" height="2" fill="#D8002F"/>
<rect x="537" y="251" width="1" height="10" fill="#000"/>
<rect x="536" y="253" width="2" height="7" fill="#000"/>
<rect x="538" y="247" width="1" height="5" fill="#000"/>
<rect x="537" y="248" width="2" height="3" fill="#000"/>
<rect x="540" y="246" width="1" height="5" fill="#000"/>
<rect x="539" y="247" width="2" height="3" fill="#000"/>
<rect x="542" y="245" width="1" height="4" fill="#000"/>
<rect x="541" y="245" width="2" height="3" fill="#000"/>
<rect x="544" y="244" width="1" height="4" fill="#D8002F"/>
<rect x="543" y="245" width="2" height="2" fill="#D8002F"/>
<rect x="546" y="244" width="1" height="4" fill="#000"/>
<rect x="545" y="245" width="2" height="2" fill="#000"/>
<rect x="547" y="245" width="1" height="4" fill="#000"/>
<rect x="546" y="245" width="2" height="3" fill="#000"/>
<rect x="549" y="244" width="1" height="7" fill="#D8002F"/>
<rect x="548" y="246" width="2" height="3" fill="#D8002F"/>
<rect x="551" y="246" width="1" height="4" fill="#D8002F"/>
<rect x="550" y="247" width="2" height="2" fill="#D8002F"/>
<rect x="553" y="247" width="1" height="4" fill="#D8002F"/>
<rect x="552" y="248" width="2" height="2" fill="#D8002F"/>
<rect x="555" y="248" width="1" height="5" fill="#000"/>
<rect x="554" y="249" width="2" height="2" fill="#000"/>
<rect x="556" y="247" width="1" height="5" fill="#D8002F"/>
<rect x="555" y="248" width="2" height="3" fill="#D8002F"/>
<rect x="558" y="246" width="1" height="4" fill="#D8002F"/>
<rect x="557" y="246" width="2" height="3" fill="#D8002F"/>
<rect x="560" y="246" width="1" height="3" fill="#D8002F"/>
<rect x="559" y="247" width="2" height="1" fill="#D8002F"/>
<rect x="562" y="240" width="1" height="6" fill="#000"/>
<rect x="561" y="241" width="2" height="3" fill="#000"/>
<rect x="564" y="240" width="1" height="4" fill="#000"/>
<rect x="563" y="241" width="2" height="2" fill="#000"/>
<rect x="565" y="239" width="1" height="4" fill="#000"/>
<rect x="564" y="239" width="2" height="3" fill="#000"/>
<rect x="567" y="239" width="1" height="4" fill="#000"/>
<rect x="566" y="240" width="2" height="2" fill="#000"/>
<rect x="569" y="236" width="1" height="6" fill="#000"/>
<rect x="568" y="237" width="2" height="3" fill="#000"/>
<rect x="571" y="238" width="1" height="10" fill="#D8002F"/>
<rect x="570" y="241" width="2" height="5" fill="#D8002F"/>
<rect x="573" y="241" width="1" height="4" fill="#D8002F"/>
<rect x="572" y="242" width="2" height="2" fill="#D8002F"/>
<rect x="574" y="240" width="1" height="4" fill="#D8002F"/>
<rect x="573" y="241" width="2" height="2" fill="#D8002F"/>
<rect x="576" y="241" width="1" height="3" fill="#D8002F"/>
<rect x="575" y="241" width="2" height="3" fill="#D8002F"/>
<rect x="578" y="240" width="1" height="4" fill="#000"/>
<rect x="577" y="241" width="2" height="2" fill="#000"/>
<rect x="580" y="240" width="1" height="4" fill="#D8002F"/>
<rect x="579" y="241" width="2" height="2" fill="#D8002F"/>
<rect x="582" y="233" width="1" height="5" fill="#000"/>
<rect x="581" y="234" width="2" height="3" fill="#000"/>
<rect x="583" y="232" width="1" height="5" fill="#000"/>
<rect x="582" y="233" width="2" height="3" fill="#000"/>
<rect x="585" y="226" width="1" height="8" fill="#000"/>
<rect x="584" y="229" width="2" height="4" fill="#000"/>
<rect x="587" y="217" width="1" height="10" fill="#000"/>
<rect x="586" y="219" width="2" height="6" fill="#000"/>
<rect x="589" y="215" width="1" height="13" fill="#D8002F"/>
<rect x="588" y="219" width="2" height="7" fill="#D8002F"/>
<rect x="591" y="215" width="1" height="16" fill="#000"/>
<rect x="590" y="217" width="2" height="12" fill="#000"/>
<rect x="592" y="212" width="1" height="16" fill="#000"/>
<rect x="591" y="215" width="2" height="8" fill="#000"/>
<rect x="594" y="206" width="1" height="9" fill="#000"/>
<rect x="593" y="209" width="2" height="3" fill="#000"/>
<rect x="596" y="196" width="1" height="12" fill="#000"/>
<rect x="595" y="200" width="2" height="4" fill="#000"/>
<rect x="598" y="206" width="1" height="10" fill="#D8002F"/>
<rect x="597" y="208" width="2" height="7" fill="#D8002F"/>
<rect x="600" y="208" width="1" height="7" fill="#D8002F"/>
<rect x="599" y="210" width="2" height="3" fill="#D8002F"/>
<rect x="601" y="209" width="1" height="6" fill="#D8002F"/>
<rect x="600" y="210" width="2" height="3" fill="#D8002F"/>
<rect x="603" y="208" width="1" height="6" fill="#D8002F"/>
<rect x="602" y="209" width="2" height="4" fill="#D8002F"/>
<rect x="605" y="206" width="1" height="6" fill="#000"/>
<rect x="604" y="207" width="2" height="4" fill="#000"/>
<rect x="607" y="190" width="1" height="8" fill="#000"/>
<rect x="606" y="191" width="2" height="6" fill="#000"/>
<rect x="609" y="185" width="1" height="6" fill="#000"/>
<rect x="608" y="186" width="2" height="3" fill="#000"/>
<rect x="610" y="184" width="1" height="6" fill="#000"/>
<rect x="609" y="185" width="2" height="3" fill="#000"/>
<rect x="612" y="163" width="1" height="20" fill="#000"/>
<rect x="611" y="166" width="2" height="13" fill="#000"/>
<rect x="614" y="166" width="1" height="14" fill="#D8002F"/>
<rect x="613" y="170" width="2" height="6" fill="#D8002F"/>
<rect x="616" y="174" width="1" height="8" fill="#D8002F"/>
<rect x="615" y="176" width="2" height="5" fill="#D8002F"/>
<rect x="618" y="173" width="1" height="11" fill="#000"/>
<rect x="617" y="175" width="2" height="7" fill="#000"/>
<rect x="619" y="175" width="1" height="11" fill="#000"/>
<rect x="618" y="179" width="2" height="5" fill="#000"/>
<rect x="621" y="176" width="1" height="8" fill="#D8002F"/>
<rect x="620" y="178" width="2" height="3" fill="#D8002F"/>
<rect x="623" y="177" width="1" height="61" fill="#D8002F"/>
<rect x="622" y="184" width="2" height="42" fill="#D8002F"/>
<rect x="625" y="194" width="1" height="14" fill="#000"/>
<rect x="624" y="198" width="2" height="6" fill="#000"/>
<rect x="627" y="192" width="1" height="6" fill="#000"/>
<rect x="626" y="193" width="2" height="4" fill="#000"/>
<rect x="628" y="191" width="1" height="6" fill="#000"/>
<rect x="627" y="192" width="2" height="3" fill="#000"/>
<rect x="630" y="190" width="1" height="8" fill="#D8002F"/>
<rect x="629" y="191" width="2" height="5" fill="#D8002F"/>
<rect x="632" y="152" width="1" height="12" fill="#000"/>
<rect x="631" y="156" width="2" height="6" fill="#000"/>
<rect x="634" y="162" width="1" height="11" fill="#D8002F"/>
<rect x="633" y="164" width="2" height="5" fill="#D8002F"/>
<rect x="636" y="166" width="1" height="6" fill="#000"/>
<rect x="635" y="168" width="2" height="3" fill="#000"/>
<rect x="637" y="164" width="1" height="7" fill="#D8002F"/>
<rect x="636" y="166" width="2" height="4" fill="#D8002F"/>
<rect x="639" y="164" width="1" height="6" fill="#000"/>
<rect x="638" y="165" width="2" height="4" fill="#000"/>
<rect x="641" y="165" width="1" height="25" fill="#D8002F"/>
<rect x="640" y="172" width="2" height="10" fill="#D8002F"/>
<rect x="643" y="176" width="1" height="14" fill="#D8002F"/>
<rect x="642" y="180" width="2" height="5" fill="#D8002F"/>
<rect x="645" y="178" width="1" height="14" fill="#D8002F"/>
<rect x="644" y="179" width="2" height="11" fill="#D8002F"/>
<rect x="647" y="180" width="1" height="10" fill="#000"/>
<rect x="646" y="182" width="2" height="5" fill="#000"/>
<rect x="648" y="176" width="1" height="11" fill="#D8002F"/>
<rect x="647" y="180" width="2" height="5" fill="#D8002F"/>
<rect x="650" y="183" width="1" height="8" fill="#D8002F"/>
<rect x="649" y="184" width="2" height="5" fill="#D8002F"/>
<rect x="652" y="186" width="1" height="5" fill="#D8002F"/>
<rect x="651" y="187" width="2" height="2" fill="#D8002F"/>
<rect x="654" y="188" width="1" height="12" fill="#D8002F"/>
<rect x="653" y="190" width="2" height="6" fill="#D8002F"/>
<rect x="656" y="197" width="1" height="8" fill="#D8002F"/>
<rect x="655" y="199" width="2" height="4" fill="#D8002F"/>
<rect x="658" y="198" width="1" height="10" fill="#000"/>
<rect x="657" y="201" width="2" height="4" fill="#000"/>
<rect x="659" y="198" width="1" height="7" fill="#000"/>
<rect x="658" y="199" width="2" height="5" fill="#000"/>
<rect x="661" y="200" width="1" height="7" fill="#D8002F"/>
<rect x="660" y="201" width="2" height="4" fill="#D8002F"/>
<rect x="663" y="202" width="1" height="6" fill="#D8002F"/>
<rect x="662" y="203" width="2" height="4" fill="#D8002F"/>
<rect x="665" y="198" width="1" height="8" fill="#000"/>
<rect x="664" y="200" width="2" height="5" fill="#000"/>
<rect x="667" y="199" width="1" height="7" fill="#000"/>
<rect x="666" y="200" width="2" height="5" fill="#000"/>
<rect x="669" y="198" width="1" height="7" fill="#D8002F"/>
<rect x="668" y="200" width="2" height="4" fill="#D8002F"/>
<rect x="670" y="195" width="1" height="8" fill="#000"/>
<rect x="669" y="198" width="2" height="2" fill="#000"/>
<rect x="672" y="194" width="1" height="8" fill="#000"/>
<rect x="671" y="197" width="2" height="4" fill="#000"/>
<rect x="674" y="188" width="1" height="9" fill="#000"/>
<rect x="673" y="189" width="2" height="7" fill="#000"/>
<rect x="676" y="188" width="1" height="7" fill="#D8002F"/>
<rect x="675" y="190" width="2" height="3" fill="#D8002F"/>
<rect x="678" y="191" width="1" height="7" fill="#D8002F"/>
<rect x="677" y="192" width="2" height="5" fill="#D8002F"/>
<rect x="680" y="191" width="1" height="7" fill="#D8002F"/>
<rect x="679" y="192" width="2" height="4" fill="#D8002F"/>
<rect x="681" y="190" width="1" height="7" fill="#D8002F"/>
<rect x="680" y="192" width="2" height="3" fill="#D8002F"/>
<rect x="683" y="177" width="1" height="6" fill="#000"/>
<rect x="682" y="179" width="2" height="2" fill="#000"/>
<rect x="685" y="176" width="1" height="6" fill="#000"/>
<rect x="684" y="177" width="2" height="3" fill="#000"/>
<rect x="687" y="173" width="1" height="7" fill="#D8002F"/>
<rect x="686" y="174" width="2" height="4" fill="#D8002F"/>
<rect x="689" y="173" width="1" height="6" fill="#D8002F"/>
<rect x="688" y="174" width="2" height="3" fill="#D8002F"/>
<rect x="691" y="173" width="1" height="6" fill="#D8002F"/>
<rect x="690" y="174" width="2" height="4" fill="#D8002F"/>
<rect x="692" y="172" width="1" height="6" fill="#000"/>
<rect x="691" y="173" width="2" height="4" fill="#000"/>
<rect x="694" y="172" width="1" height="7" fill="#D8002F"/>
<rect x="693" y="174" width="2" height="3" fill="#D8002F"/>
<rect x="696" y="167" width="1" height="6" fill="#000"/>
<rect x="695" y="168" width="2" height="4" fill="#000"/>
<rect x="698" y="166" width="1" height="6" fill="#000"/>
<rect x="697" y="168" width="2" height="3" fill="#000"/>
<rect x="700" y="163" width="1" height="7" fill="#000"/>
<rect x="699" y="164" width="2" height="4" fill="#000"/>
<rect x="701" y="162" width="1" height="7" fill="#D8002F"/>
<rect x="700" y="164" width="2" height="3" fill="#D8002F"/>
<rect x="703" y="161" width="1" height="5" fill="#D8002F"/>
<rect x="702" y="162" width="2" height="3" fill="#D8002F"/>
<rect x="705" y="161" width="1" height="4" fill="#D8002F"/>
<rect x="704" y="162" width="2" height="2" fill="#D8002F"/>
<rect x="707" y="152" width="1" height="11" fill="#000"/>
<rect x="706" y="156" width="2" height="6" fill="#000"/>
<rect x="709" y="150" width="1" height="8" fill="#000"/>
<rect x="708" y="151" width="2" height="6" fill="#000"/>
<rect x="710" y="148" width="1" height="8" fill="#000"/>
<rect x="709" y="149" width="2" height="4" fill="#000"/>
<rect x="712" y="148" width="1" height="6" fill="#000"/>
<rect x="711" y="149" width="2" height="3" fill="#000"/>
<rect x="714" y="147" width="1" height="6" fill="#000"/>
<rect x="713" y="148" width="2" height="3" fill="#000"/>
<rect x="716" y="148" width="1" height="6" fill="#000"/>
<rect x="715" y="149" width="2" height="4" fill="#000"/>
<rect x="718" y="147" width="1" height="6" fill="#000"/>
<rect x="717" y="149" width="2" height="2" fill="#000"/>
<rect x="719" y="147" width="1" height="7" fill="#000"/>
<rect x="718" y="148" width="2" height="4" fill="#000"/>
<rect x="721" y="146" width="1" height="7" fill="#000"/>
<rect x="720" y="148" width="2" height="4" fill="#000"/>
<rect x="723" y="144" width="1" height="6" fill="#000"/>
<rect x="722" y="145" width="2" height="4" fill="#000"/>
<rect x="725" y="143" width="1" height="6" fill="#000"/>
<rect x="724" y="144" width="2" height="4" fill="#000"/>
<rect x="727" y="144" width="1" height="9" fill="#D8002F"/>
<rect x="726" y="146" width="2" height="5" fill="#D8002F"/>
<rect x="728" y="146" width="1" height="8" fill="#D8002F"/>
<rect x="727" y="147" width="2" height="6" fill="#D8002F"/>
<rect x="730" y="144" width="1" height="8" fill="#000"/>
<rect x="729" y="145" width="2" height="5" fill="#000"/>
<rect x="732" y="148" width="1" height="8" fill="#D8002F"/>
<rect x="731" y="149" width="2" height="6" fill="#D8002F"/>
<rect x="734" y="150" width="1" height="8" fill="#D8002F"/>
<rect x="733" y="151" width="2" height="5" fill="#D8002F"/>
<rect x="736" y="150" width="1" height="4" fill="#D8002F"/>
<rect x="735" y="151" width="2" height="3" fill="#D8002F"/>
<rect x="737" y="151" width="1" height="4" fill="#D8002F"/>
<rect x="736" y="152" width="2" height="2" fill="#D8002F"/>
<rect x="739" y="151" width="1" height="10" fill="#D8002F"/>
<rect x="738" y="153" width="2" height="5" fill="#D8002F"/>
<rect x="741" y="157" width="1" height="15" fill="#D8002F"/>
<rect x="740" y="159" width="2" height="11" fill="#D8002F"/>
<rect x="743" y="164" width="1" height="9" fill="#D8002F"/>
<rect x="742" y="166" width="2" height="5" fill="#D8002F"/>
<rect x="745" y="155" width="1" height="7" fill="#000"/>
<rect x="744" y="156" width="2" height="5" fill="#000"/>
<rect x="746" y="153" width="1" height="7" fill="#000"/>
<rect x="745" y="155" width="2" height="4" fill="#000"/>
<rect x="748" y="143" width="1" height="12" fill="#000"/>
<rect x="747" y="146" width="2" height="7" fill="#000"/>
<rect x="750" y="139" width="1" height="9" fill="#000"/>
<rect x="749" y="141" width="2" height="4" fill="#000"/>
<rect x="752" y="137" width="1" height="4" fill="#000"/>
<rect x="751" y="138" width="2" height="2" fill="#000"/>
<rect x="754" y="136" width="1" height="4" fill="#000"/>
<rect x="753" y="137" width="2" height="2" fill="#000"/>
<rect x="755" y="135" width="1" height="6" fill="#000"/>
<rect x="754" y="136" width="2" height="4" fill="#000"/>
<rect x="757" y="132" width="1" height="11" fill="#D8002F"/>
<rect x="756" y="136" width="2" height="5" fill="#D8002F"/>
<rect x="759" y="112" width="1" height="13" fill="#000"/>
<rect x="758" y="116" width="2" height="6" fill="#000"/>
<rect x="761" y="111" width="1" height="7" fill="#000"/>
<rect x="760" y="113" width="2" height="3" fill="#000"/>
<rect x="763" y="112" width="1" height="4" fill="#D8002F"/>
<rect x="762" y="113" width="2" height="3" fill="#D8002F"/>
<rect x="764" y="113" width="1" height="3" fill="#000"/>
<rect x="763" y="114" width="2" height="1" fill="#000"/>
<rect x="766" y="112" width="1" height="4" fill="#000"/>
<rect x="765" y="113" width="2" height="3" fill="#000"/>
<rect x="768" y="113" width="1" height="4" fill="#000"/>
<rect x="767" y="114" width="2" height="2" fill="#000"/>
<rect x="770" y="113" width="1" height="7" fill="#D8002F"/>
<rect x="769" y="115" width="2" height="4" fill="#D8002F"/>
<rect x="772" y="117" width="1" height="5" fill="#D8002F"/>
<rect x="771" y="118" width="2" height="3" fill="#D8002F"/>
<rect x="773" y="118" width="1" height="5" fill="#D8002F"/>
<rect x="772" y="120" width="2" height="2" fill="#D8002F"/>
<rect x="775" y="121" width="1" height="6" fill="#D8002F"/>
<rect x="774" y="122" width="2" height="3" fill="#D8002F"/>
<rect x="777" y="122" width="1" height="5" fill="#000"/>
<rect x="776" y="124" width="2" height="2" fill="#000"/>
<rect x="779" y="122" width="1" height="6" fill="#000"/>
<rect x="778" y="123" width="2" height="3" fill="#000"/>
<rect x="781" y="125" width="1" height="7" fill="#D8002F"/>
<rect x="780" y="127" width="2" height="3" fill="#D8002F"/>
<rect x="782" y="123" width="1" height="7" fill="#D8002F"/>
<rect x="781" y="124" width="2" height="4" fill="#D8002F"/>
<rect x="784" y="117" width="1" height="15" fill="#000"/>
<rect x="783" y="120" width="2" height="7" fill="#000"/>
<rect x="786" y="126" width="1" height="11" fill="#D8002F"/>
<rect x="785" y="129" width="2" height="5" fill="#D8002F"/>
<rect x="788" y="128" width="1" height="7" fill="#000"/>
<rect x="787" y="129" width="2" height="4" fill="#000"/>
<rect x="790" y="126" width="1" height="6" fill="#000"/>
<rect x="789" y="127" width="2" height="4" fill="#000"/>
<rect x="791" y="125" width="1" height="6" fill="#000"/>
<rect x="790" y="127" width="2" height="2" fill="#000"/>
<rect x="793" y="128" width="1" height="7" fill="#D8002F"/>
<rect x="792" y="129" width="2" height="5" fill="#D8002F"/>
<rect x="795" y="127" width="1" height="7" fill="#D8002F"/>
<rect x="794" y="128" width="2" height="4" fill="#D8002F"/>
<rect x="797" y="124" width="1" height="5" fill="#000"/>
<rect x="796" y="125" width="2" height="3" fill="#000"/>
<rect x="799" y="118" width="1" height="9" fill="#000"/>
<rect x="798" y="119" width="2" height="5" fill="#000"/>
<rect x="800" y="117" width="1" height="5" fill="#000"/>
<rect x="799" y="119" width="2" height="2" fill="#000"/>
<rect x="802" y="116" width="1" height="5" fill="#000"/>
<rect x="801" y="117" width="2" height="3" fill="#000"/>
<rect x="804" y="114" width="1" height="5" fill="#000"/>
<rect x="803" y="115" width="2" height="2" fill="#000"/>
<rect x="806" y="116" width="1" height="9" fill="#D8002F"/>
<rect x="805" y="117" width="2" height="6" fill="#D8002F"/>
<rect x="808" y="124" width="1" height="4" fill="#D8002F"/>
<rect x="807" y="125" width="2" height="2" fill="#D8002F"/>
<rect x="809" y="125" width="1" height="4" fill="#D8002F"/>
<rect x="808" y="126" width="2" height="2" fill="#D8002F"/>
<rect x="811" y="126" width="1" height="7" fill="#D8002F"/>
<rect x="810" y="128" width="2" height="4" fill="#D8002F"/>
<rect x="813" y="129" width="1" height="6" fill="#D8002F"/>
<rect x="812" y="131" width="2" height="3" fill="#D8002F"/>
<rect x="815" y="129" width="1" height="4" fill="#000"/>
<rect x="814" y="130" width="2" height="3" fill="#000"/>
<rect x="817" y="128" width="1" height="4" fill="#000"/>
<rect x="816" y="129" width="2" height="2" fill="#000"/>
<rect x="818" y="126" width="1" height="3" fill="#000"/>
<rect x="817" y="126" width="2" height="2" fill="#000"/>
<rect x="820" y="127" width="1" height="3" fill="#000"/>
<rect x="819" y="128" width="2" height="1" fill="#000"/>
<rect x="822" y="128" width="1" height="7" fill="#D8002F"/>
<rect x="821" y="129" width="2" height="4" fill="#D8002F"/>
<rect x="824" y="130" width="1" height="3" fill="#000"/>
<rect x="823" y="130" width="2" height="3" fill="#000"/>
<rect x="826" y="130" width="1" height="3" fill="#000"/>
<rect x="825" y="131" width="2" height="2" fill="#000"/>
<rect x="827" y="131" width="1" height="2" fill="#D8002F"/>
<rect x="826" y="131" width="2" height="2" fill="#D8002F"/>
<rect x="829" y="131" width="1" height="2" fill="#D8002F"/>
<rect x="828" y="131" width="2" height="1" fill="#D8002F"/>
<rect x="831" y="131" width="1" height="3" fill="#D8002F"/>
<rect x="830" y="131" width="2" height="2" fill="#D8002F"/>
<rect x="833" y="131" width="1" height="5" fill="#000"/>
<rect x="832" y="132" width="2" height="3" fill="#000"/>
<rect x="834" y="126" width="1" height="5" fill="#000"/>
<rect x="833" y="127" width="2" height="3" fill="#000"/>
<rect x="836" y="124" width="1" height="6" fill="#000"/>
<rect x="835" y="125" width="2" height="3" fill="#000"/>
<rect x="838" y="126" width="1" height="4" fill="#D8002F"/>
<rect x="837" y="127" width="2" height="2" fill="#D8002F"/>
<rect x="840" y="127" width="1" height="4" fill="#D8002F"/>
<rect x="839" y="128" width="2" height="2" fill="#D8002F"/>
<rect x="842" y="129" width="1" height="5" fill="#D8002F"/>
<rect x="841" y="131" width="2" height="2" fill="#D8002F"/>
<rect x="843" y="128" width="1" height="5" fill="#D8002F"/>
<rect x="842" y="130" width="2" height="2" fill="#D8002F"/>
<rect x="845" y="125" width="1" height="6" fill="#000"/>
<rect x="844" y="127" width="2" height="2" fill="#000"/>
<rect x="847" y="124" width="1" height="6" fill="#000"/>
<rect x="846" y="125" width="2" height="3" fill="#000"/>
<rect x="849" y="124" width="1" height="5" fill="#000"/>
<rect x="848" y="126" width="2" height="2" fill="#000"/>
<rect x="851" y="124" width="1" height="4" fill="#000"/>
<rect x="850" y="125" width="2" height="2" fill="#000"/>
<rect x="852" y="126" width="1" height="3" fill="#D8002F"/>
<rect x="851" y="126" width="2" height="2" fill="#D8002F"/>
<rect x="854" y="125" width="1" height="3" fill="#D8002F"/>
<rect x="853" y="126" width="2" height="1" fill="#D8002F"/>
<rect x="856" y="123" width="1" height="5" fill="#000"/>
<rect x="855" y="124" width="2" height="3" fill="#000"/>
<rect x="858" y="114" width="1" height="12" fill="#000"/>
<rect x="857" y="118" width="2" height="6" fill="#000"/>
<rect x="860" y="121" width="1" height="5" fill="#D8002F"/>
<rect x="859" y="122" width="2" height="3" fill="#D8002F"/>
<rect x="861" y="122" width="1" height="5" fill="#D8002F"/>
<rect x="860" y="123" width="2" height="3" fill="#D8002F"/>
<rect x="863" y="123" width="1" height="6" fill="#000"/>
<rect x="862" y="124" width="2" height="4" fill="#000"/>
<rect x="865" y="125" width="1" height="5" fill="#D8002F"/>
<rect x="864" y="127" width="2" height="2" fill="#D8002F"/>
<rect x="867" y="126" width="1" height="4" fill="#D8002F"/>
<rect x="866" y="127" width="2" height="2" fill="#D8002F"/>
<rect x="868" y="127" width="1" height="4" fill="#D8002F"/>
<rect x="867" y="128" width="2" height="2" fill="#D8002F"/>
<rect x="870" y="126" width="1" height="14" fill="#D8002F"/>
<rect x="869" y="129" width="2" height="7" fill="#D8002F"/>
<rect x="872" y="118" width="1" height="11" fill="#000"/>
<rect x="871" y="120" width="2" height="5" fill="#000"/>
<rect x="874" y="114" width="1" height="7" fill="#000"/>
<rect x="873" y="116" width="2" height="3" fill="#000"/>
<rect x="876" y="117" width="1" height="4" fill="#D8002F"/>
<rect x="875" y="118" width="2" height="2" fill="#D8002F"/>
<rect x="878" y="117" width="1" height="5" fill="#D8002F"/>
<rect x="877" y="119" width="2" height="2" fill="#D8002F"/>
<rect x="880" y="116" width="1" height="4" fill="#000"/>
<rect x="879" y="117" width="2" height="2" fill="#000"/>
<rect x="881" y="116" width="1" height="3" fill="#000"/>
<rect x="880" y="116" width="2" height="2" fill="#000"/>
<rect x="883" y="98" width="1" height="19" fill="#000"/>
<rect x="882" y="103" width="2" height="10" fill="#000"/>
<rect x="885" y="91" width="1" height="8" fill="#000"/>
<rect x="884" y="93" width="2" height="4" fill="#000"/>
<rect x="887" y="90" width="1" height="5" fill="#000"/>
<rect x="886" y="91" width="2" height="3" fill="#000"/>
<rect x="889" y="89" width="1" height="5" fill="#000"/>
<rect x="888" y="90" width="2" height="2" fill="#000"/>
<rect x="891" y="86" width="1" height="8" fill="#D8002F"/>
<rect x="890" y="87" width="2" height="5" fill="#D8002F"/>
<rect x="893" y="84" width="1" height="7" fill="#000"/>
<rect x="892" y="86" width="2" height="3" fill="#000"/>
<rect x="895" y="83" width="1" height="6" fill="#000"/>
<rect x="894" y="85" width="2" height="3" fill="#000"/>
<rect x="897" y="68" width="1" height="9" fill="#000"/>
<rect x="896" y="69" width="2" height="7" fill="#000"/>
<rect x="898" y="66" width="1" height="10" fill="#000"/>
<rect x="897" y="67" width="2" height="6" fill="#000"/>
<rect x="900" y="62" width="1" height="9" fill="#000"/>
<rect x="899" y="64" width="2" height="5" fill="#000"/>
<rect x="902" y="66" width="1" height="6" fill="#D8002F"/>
<rect x="901" y="68" width="2" height="3" fill="#D8002F"/>
<rect x="904" y="66" width="1" height="5" fill="#000"/>
<rect x="903" y="67" width="2" height="3" fill="#000"/>
<rect x="906" y="65" width="1" height="5" fill="#D8002F"/>
<rect x="905" y="66" width="2" height="3" fill="#D8002F"/>
<rect x="908" y="65" width="1" height="6" fill="#D8002F"/>
<rect x="907" y="66" width="2" height="4" fill="#D8002F"/>
<rect x="910" y="56" width="1" height="7" fill="#000"/>
<rect x="909" y="57" width="2" height="5" fill="#000"/>
<rect x="912" y="57" width="1" height="4" fill="#000"/>
<rect x="911" y="58" width="2" height="2" fill="#000"/>
<rect x="914" y="56" width="1" height="4" fill="#000"/>
<rect x="913" y="57" width="2" height="2" fill="#000"/>
<rect x="916" y="55" width="1" height="5" fill="#D8002F"/>
<rect x="915" y="56" width="2" height="3" fill="#D8002F"/>
<rect x="917" y="52" width="1" height="6" fill="#000"/>
<rect x="916" y="54" width="2" height="3" fill="#000"/>
<rect x="919" y="51" width="1" height="6" fill="#000"/>
<rect x="918" y="52" width="2" height="4" fill="#000"/>
<rect x="921" y="47" width="1" height="7" fill="#000"/>
<rect x="920" y="49" width="2" height="3" fill="#000"/>
<rect x="922" y="47" width="1" height="8" fill="#9CDB7C"/>
</g>
<line x1="910" y1="70.5" x2="924" y2="70.5" stroke="#0000FF" stroke-width="1" stroke-dasharray="2 1.6" shape-rendering="crispEdges"/>
<path d="M3.5 409.5 H18.0 L23.0 404.5 L28.0 409.5 H39.5 V419.5 H3.5 Z" fill="#fff" stroke="#333" stroke-width="1"/>
<text x="4.80" y="418" font-size="9.6" textLength="33" lengthAdjust="spacing" fill="#000">2488.03</text>
<path d="M214.5 280.5 H250.5 V290.5 H238.5 L233.5 295.5 L228.5 290.5 H214.5 Z" fill="#fff" stroke="#333" stroke-width="1"/>
<text x="215.80" y="289" font-size="9.6" textLength="33" lengthAdjust="spacing" fill="#000">2564.11</text>
<path d="M229.5 325.5 H243.5 L248.5 320.5 L253.5 325.5 H265.5 V335.5 H229.5 Z" fill="#fff" stroke="#333" stroke-width="1"/>
<text x="230.80" y="334" font-size="9.6" textLength="33" lengthAdjust="spacing" fill="#000">2547.92</text>
<path d="M252.5 260.5 H288.5 V270.5 H276.5 L271.5 275.5 L266.5 270.5 H252.5 Z" fill="#fff" stroke="#333" stroke-width="1"/>
<text x="253.80" y="269" font-size="9.6" textLength="33" lengthAdjust="spacing" fill="#000">2578.29</text>
<path d="M283.5 330.5 H297.5 L302.5 325.5 L307.5 330.5 H319.5 V340.5 H283.5 Z" fill="#fff" stroke="#333" stroke-width="1"/>
<text x="284.80" y="339" font-size="9.6" textLength="33" lengthAdjust="spacing" fill="#000">2544.00</text>
<path d="M312.5 253.5 H348.5 V263.5 H336.5 L331.5 268.5 L326.5 263.5 H312.5 Z" fill="#fff" stroke="#333" stroke-width="1"/>
<text x="313.80" y="262" font-size="9.6" textLength="33" lengthAdjust="spacing" fill="#000">2582.98</text>
<path d="M355.5 298.5 H369.5 L374.5 293.5 L379.5 298.5 H391.5 V308.5 H355.5 Z" fill="#fff" stroke="#333" stroke-width="1"/>
<text x="356.80" y="307" font-size="9.6" textLength="33" lengthAdjust="spacing" fill="#000">2566.17</text>
<path d="M391.5 233.5 H427.5 V243.5 H415.5 L410.5 248.5 L405.5 243.5 H391.5 Z" fill="#fff" stroke="#333" stroke-width="1"/>
<text x="392.80" y="242" font-size="9.6" textLength="33" lengthAdjust="spacing" fill="#000">2597.02</text>
<path d="M422.5 299.5 H436.5 L441.5 294.5 L446.5 299.5 H458.5 V309.5 H422.5 Z" fill="#fff" stroke="#333" stroke-width="1"/>
<text x="423.80" y="308" font-size="9.6" textLength="33" lengthAdjust="spacing" fill="#000">2566.33</text>
<path d="M453.5 247.5 H489.5 V257.5 H477.5 L472.5 262.5 L467.5 257.5 H453.5 Z" fill="#fff" stroke="#333" stroke-width="1"/>
<text x="454.80" y="256" font-size="9.6" textLength="33" lengthAdjust="spacing" fill="#000">2587.66</text>
<path d="M467.5 311.5 H481.5 L486.5 306.5 L491.5 311.5 H503.5 V321.5 H467.5 Z" fill="#fff" stroke="#333" stroke-width="1"/>
<text x="468.80" y="320" font-size="9.6" textLength="33" lengthAdjust="spacing" fill="#000">2557.45</text>
<path d="M613.5 137.5 H649.5 V147.5 H637.5 L632.5 152.5 L627.5 147.5 H613.5 Z" fill="#fff" stroke="#333" stroke-width="1"/>
<text x="614.80" y="146" font-size="9.6" textLength="33" lengthAdjust="spacing" fill="#000">2665.19</text>
<path d="M604.5 243.5 H618.5 L623.5 238.5 L628.5 243.5 H640.5 V253.5 H604.5 Z" fill="#fff" stroke="#333" stroke-width="1"/>
<text x="605.80" y="252" font-size="9.6" textLength="33" lengthAdjust="spacing" fill="#000">2605.52</text>
<path d="M639.5 216.5 H653.5 L658.5 211.5 L663.5 216.5 H675.5 V226.5 H639.5 Z" fill="#fff" stroke="#333" stroke-width="1"/>
<text x="640.80" y="225" font-size="9.6" textLength="33" lengthAdjust="spacing" fill="#000">2624.75</text>
<path d="M705.5 127.5 H741.5 V137.5 H729.5 L724.5 142.5 L719.5 137.5 H705.5 Z" fill="#fff" stroke="#333" stroke-width="1"/>
<text x="706.80" y="136" font-size="9.6" textLength="33" lengthAdjust="spacing" fill="#000">2671.88</text>
<path d="M725.5 178.5 H739.5 L744.5 173.5 L749.5 178.5 H761.5 V188.5 H725.5 Z" fill="#fff" stroke="#333" stroke-width="1"/>
<text x="726.80" y="187" font-size="9.6" textLength="33" lengthAdjust="spacing" fill="#000">2652.01</text>
<path d="M740.5 95.5 H776.5 V105.5 H764.5 L759.5 110.5 L754.5 105.5 H740.5 Z" fill="#fff" stroke="#333" stroke-width="1"/>
<text x="741.80" y="104" font-size="9.6" textLength="33" lengthAdjust="spacing" fill="#000">2694.97</text>
<path d="M785.5 98.5 H821.5 V108.5 H809.5 L804.5 113.5 L799.5 108.5 H785.5 Z" fill="#fff" stroke="#333" stroke-width="1"/>
<text x="786.80" y="107" font-size="9.6" textLength="33" lengthAdjust="spacing" fill="#000">2692.64</text>
<path d="M767.5 143.5 H781.5 L786.5 138.5 L791.5 143.5 H803.5 V153.5 H767.5 Z" fill="#fff" stroke="#333" stroke-width="1"/>
<text x="768.80" y="152" font-size="9.6" textLength="33" lengthAdjust="spacing" fill="#000">2676.11</text>
<path d="M814.5 141.5 H828.5 L833.5 136.5 L838.5 141.5 H850.5 V151.5 H814.5 Z" fill="#fff" stroke="#333" stroke-width="1"/>
<text x="815.80" y="150" font-size="9.6" textLength="33" lengthAdjust="spacing" fill="#000">2677.96</text>
<path d="M840.5 99.5 H876.5 V109.5 H866.0 L861.0 114.5 L856.0 109.5 H840.5 Z" fill="#fff" stroke="#333" stroke-width="1"/>
<text x="841.80" y="108" font-size="9.6" textLength="33" lengthAdjust="spacing" fill="#000">2692.12</text>
<path d="M852.5 146.5 H866.5 L871.5 141.5 L876.5 146.5 H888.5 V156.5 H852.5 Z" fill="#fff" stroke="#333" stroke-width="1"/>
<text x="853.80" y="155" font-size="9.6" textLength="33" lengthAdjust="spacing" fill="#000">2673.61</text>
<g stroke="#0000FF" stroke-width="2.2" stroke-linecap="round">
<line x1="11.6" y1="408" x2="943" y2="37.8"/>
<line x1="237.7" y1="283" x2="957.5" y2="157"/>
<line x1="466.4" y1="315.1" x2="981" y2="93.7"/>
</g>
<g shape-rendering="crispEdges" fill="#000">
<rect x="947" y="47" width="2" height="1"/>
<rect x="947" y="61" width="2" height="1"/>
<rect x="947" y="75" width="2" height="1"/>
<rect x="947" y="90" width="2" height="1"/>
<rect x="947" y="104" width="2" height="1"/>
<rect x="947" y="118" width="2" height="1"/>
<rect x="947" y="132" width="2" height="1"/>
<rect x="947" y="146" width="2" height="1"/>
<rect x="947" y="160" width="2" height="1"/>
<rect x="947" y="174" width="2" height="1"/>
<rect x="947" y="189" width="2" height="1"/>
<rect x="947" y="203" width="2" height="1"/>
<rect x="947" y="217" width="2" height="1"/>
<rect x="947" y="231" width="2" height="1"/>
<rect x="947" y="245" width="2" height="1"/>
<rect x="947" y="259" width="2" height="1"/>
<rect x="947" y="273" width="2" height="1"/>
<rect x="947" y="288" width="2" height="1"/>
<rect x="947" y="302" width="2" height="1"/>
<rect x="947" y="316" width="2" height="1"/>
<rect x="947" y="330" width="2" height="1"/>
<rect x="947" y="344" width="2" height="1"/>
<rect x="947" y="358" width="2" height="1"/>
<rect x="947" y="372" width="2" height="1"/>
<rect x="947" y="387" width="2" height="1"/>
<rect x="947" y="401" width="2" height="1"/>
<rect x="947" y="414" width="2" height="1"/>
<rect x="19" y="423" width="1" height="2"/>
<rect x="82" y="423" width="1" height="2"/>
<rect x="145" y="423" width="1" height="2"/>
<rect x="208" y="423" width="1" height="2"/>
<rect x="271" y="423" width="1" height="2"/>
<rect x="335" y="423" width="1" height="2"/>
<rect x="360" y="423" width="1" height="2"/>
<rect x="398" y="423" width="1" height="2"/>
<rect x="461" y="423" width="1" height="2"/>
<rect x="524" y="423" width="1" height="2"/>
<rect x="569" y="423" width="1" height="2"/>
<rect x="620" y="423" width="1" height="2"/>
<rect x="696" y="423" width="1" height="2"/>
<rect x="759" y="423" width="1" height="2"/>
<rect x="822" y="423" width="1" height="2"/>
<rect x="872" y="423" width="1" height="2"/>
<rect x="925" y="423" width="1" height="2"/>
</g>
<text x="949.40" y="50.4" font-size="10" textLength="23.20" lengthAdjust="spacing" fill="#000">2740</text>
<text x="949.40" y="64.4" font-size="10" textLength="23.20" lengthAdjust="spacing" fill="#000">2730</text>
<text x="949.40" y="78.4" font-size="10" textLength="23.20" lengthAdjust="spacing" fill="#000">2720</text>
<text x="949.40" y="93.4" font-size="10" textLength="23.20" lengthAdjust="spacing" fill="#000">2710</text>
<text x="949.40" y="107.4" font-size="10" textLength="23.20" lengthAdjust="spacing" fill="#000">2700</text>
<text x="949.40" y="121.4" font-size="10" textLength="23.20" lengthAdjust="spacing" fill="#000">2690</text>
<text x="949.40" y="135.4" font-size="10" textLength="23.20" lengthAdjust="spacing" fill="#000">2680</text>
<text x="949.40" y="149.4" font-size="10" textLength="23.20" lengthAdjust="spacing" fill="#000">2670</text>
<text x="949.40" y="163.4" font-size="10" textLength="23.20" lengthAdjust="spacing" fill="#000">2660</text>
<text x="949.40" y="177.4" font-size="10" textLength="23.20" lengthAdjust="spacing" fill="#000">2650</text>
<text x="949.40" y="192.4" font-size="10" textLength="23.20" lengthAdjust="spacing" fill="#000">2640</text>
<text x="949.40" y="206.4" font-size="10" textLength="23.20" lengthAdjust="spacing" fill="#000">2630</text>
<text x="949.40" y="220.4" font-size="10" textLength="23.20" lengthAdjust="spacing" fill="#000">2620</text>
<text x="949.40" y="234.4" font-size="10" textLength="23.20" lengthAdjust="spacing" fill="#000">2610</text>
<text x="949.40" y="248.4" font-size="10" textLength="23.20" lengthAdjust="spacing" fill="#000">2600</text>
<text x="949.40" y="262.4" font-size="10" textLength="23.20" lengthAdjust="spacing" fill="#000">2590</text>
<text x="949.40" y="276.4" font-size="10" textLength="23.20" lengthAdjust="spacing" fill="#000">2580</text>
<text x="949.40" y="291.4" font-size="10" textLength="23.20" lengthAdjust="spacing" fill="#000">2570</text>
<text x="949.40" y="305.4" font-size="10" textLength="23.20" lengthAdjust="spacing" fill="#000">2560</text>
<text x="949.40" y="319.4" font-size="10" textLength="23.20" lengthAdjust="spacing" fill="#000">2550</text>
<text x="949.40" y="333.4" font-size="10" textLength="23.20" lengthAdjust="spacing" fill="#000">2540</text>
<text x="949.40" y="347.4" font-size="10" textLength="23.20" lengthAdjust="spacing" fill="#000">2530</text>
<text x="949.40" y="361.4" font-size="10" textLength="23.20" lengthAdjust="spacing" fill="#000">2520</text>
<text x="949.40" y="375.4" font-size="10" textLength="23.20" lengthAdjust="spacing" fill="#000">2510</text>
<text x="949.40" y="390.4" font-size="10" textLength="23.20" lengthAdjust="spacing" fill="#000">2500</text>
<text x="949.40" y="404.4" font-size="10" textLength="23.20" lengthAdjust="spacing" fill="#000">2490</text>
<text x="949.40" y="417.4" font-size="10" textLength="23.20" lengthAdjust="spacing" fill="#000">2480</text>
<text x="18.7" y="433" font-size="9.6" text-anchor="middle" fill="#000">25</text>
<text x="73.20" y="433" font-size="11" font-weight="bold" textLength="18.20" lengthAdjust="spacing" fill="#000" color="#000">Oct</text>
<text x="145.5" y="433" font-size="9.6" text-anchor="middle" fill="#000">9</text>
<text x="207.7" y="433" font-size="9.6" text-anchor="middle" fill="#000">16</text>
<text x="270.7" y="433" font-size="9.6" text-anchor="middle" fill="#000">23</text>
<text x="334.7" y="433" font-size="9.6" text-anchor="middle" fill="#000">30</text>
<text x="350.20" y="433" font-size="11" font-weight="bold" textLength="20.00" lengthAdjust="spacing" fill="#000" color="#000">Nov</text>
<text x="398.5" y="433" font-size="9.6" text-anchor="middle" fill="#000">6</text>
<text x="460.7" y="433" font-size="9.6" text-anchor="middle" fill="#000">13</text>
<text x="523.7" y="433" font-size="9.6" text-anchor="middle" fill="#000">20</text>
<text x="568.7" y="433" font-size="9.6" text-anchor="middle" fill="#000">27</text>
<text x="610.60" y="433" font-size="11" font-weight="bold" textLength="19.40" lengthAdjust="spacing" fill="#000" color="#000">Dec</text>
<text x="695.7" y="433" font-size="9.6" text-anchor="middle" fill="#000">11</text>
<text x="758.7" y="433" font-size="9.6" text-anchor="middle" fill="#000">18</text>
<text x="821.7" y="433" font-size="9.6" text-anchor="middle" fill="#000">26</text>
<text x="859.20" y="433" font-size="11" font-weight="bold" textLength="24.20" lengthAdjust="spacing" fill="#000" color="#000">2018</text>
<text x="925.5" y="433" font-size="9.6" text-anchor="middle" fill="#000">8</text>
<g fill="#000" shape-rendering="crispEdges">
<rect x="20" y="31" width="1" height="2"/><rect x="19" y="33" width="3" height="4"/><rect x="20" y="37" width="1" height="2"/>
<rect x="20" y="34" width="1" height="2" fill="#fff"/>
<rect x="22" y="34" width="3" height="4"/><rect x="23" y="33" width="1" height="1"/><rect x="23" y="38" width="1" height="1"/>
<rect x="26" y="31" width="1" height="1"/><rect x="25" y="32" width="3" height="6"/><rect x="26" y="38" width="1" height="1"/>
<rect x="26" y="33" width="1" height="4" fill="#fff"/>
</g>
<text x="31.20" y="39" font-size="10" font-weight="normal" textLength="26.80" lengthAdjust="spacing" fill="#000" color="#000">$SPX</text>
<text x="62.80" y="39" font-size="10" font-weight="normal" textLength="18.00" lengthAdjust="spacing" fill="#000" color="#000">(60</text>
<text x="86.00" y="39" font-size="10" font-weight="normal" textLength="26.00" lengthAdjust="spacing" fill="#000" color="#000">min)</text>
<text x="116.80" y="39" font-size="10" font-weight="normal" textLength="44.00" lengthAdjust="spacing" fill="#000" color="#000">2739.51</text>
<text x="16.40" y="14" font-size="13" font-weight="bold" textLength="33.20" lengthAdjust="spacing" fill="#000" color="#000">$SPX</text>
<text x="53.60" y="13" font-size="11" font-weight="normal" textLength="122.40" lengthAdjust="spacing" fill="#000" color="#000">S&amp;P 500 Large Cap Index</text>
<text x="181.20" y="13" font-size="9.7" font-weight="normal" textLength="24.00" lengthAdjust="spacing" fill="#000" color="#000">INDX</text>
<text x="15.60" y="26" font-size="10" font-weight="normal" textLength="91.40" lengthAdjust="spacing" fill="#000" color="#000">5-Jan-2018 3:37pm</text>
<text x="857.30" y="12.8" font-size="9.8" textLength="88.40" lengthAdjust="spacing" fill="#3a3a3a" style="stroke:none">© StockCharts.com</text>
<text x="539.80" y="26" font-size="11" font-weight="bold" textLength="28.20" lengthAdjust="spacing" fill="#000" color="#000">Open</text>
<text x="571.20" y="26" font-size="10" font-weight="normal" textLength="39.00" lengthAdjust="spacing" fill="#000" color="#000">2731.33</text>
<text x="616.60" y="26" font-size="11" font-weight="bold" textLength="23.40" lengthAdjust="spacing" fill="#000" color="#000">High</text>
<text x="643.80" y="26" font-size="10" font-weight="normal" textLength="38.20" lengthAdjust="spacing" fill="#000" color="#000">2739.71</text>
<text x="688.40" y="26" font-size="11" font-weight="bold" textLength="23.80" lengthAdjust="spacing" fill="#000" color="#000">Low</text>
<text x="715.20" y="26" font-size="10" font-weight="normal" textLength="39.20" lengthAdjust="spacing" fill="#000" color="#000">2727.92</text>
<text x="760.40" y="26" font-size="11" font-weight="bold" textLength="23.80" lengthAdjust="spacing" fill="#000" color="#000">Last</text>
<text x="787.00" y="26" font-size="10" font-weight="normal" textLength="38.80" lengthAdjust="spacing" fill="#000" color="#000">2739.51</text>
<text x="832.80" y="26" font-size="11" font-weight="bold" textLength="22.20" lengthAdjust="spacing" fill="#000" color="#000">Chg</text>
<text x="858.00" y="26" font-size="10" font-weight="normal" textLength="78.60" lengthAdjust="spacing" fill="#000" color="#000">+15.52 (+0.57%)</text>
<path d="M939 25.5 L942.5 21 L946 25.5 Z" fill="#2E7B32"/>
</svg></body></html>
